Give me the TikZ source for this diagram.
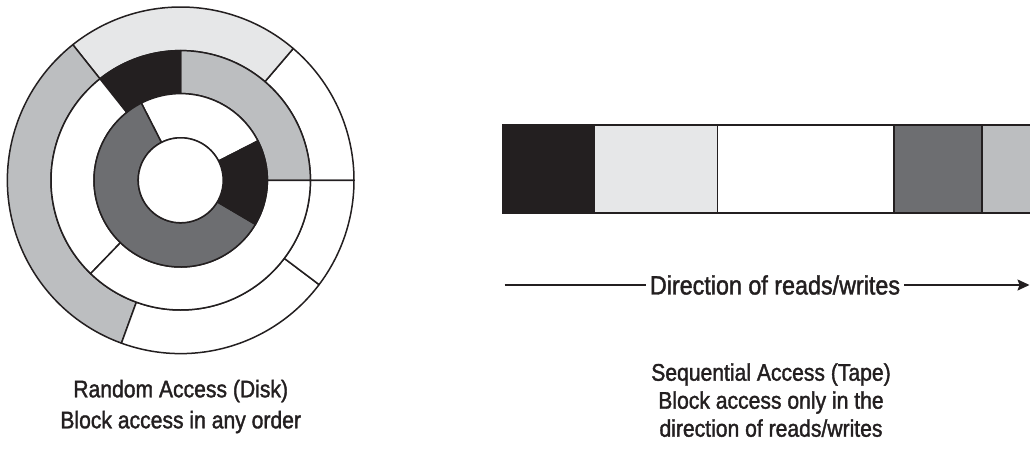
\documentclass[tikz,border=0pt]{standalone}
\usepackage{fontspec}
\setmainfont{Liberation Sans}[FakeStretch=0.88, FakeBold=1.5]
\usetikzlibrary{arrows.meta,positioning}
\definecolor{ink}{HTML}{231F20}
\definecolor{darkgrey}{HTML}{6D6E71}
\definecolor{midgrey}{HTML}{BCBEC0}
\definecolor{lightgrey}{HTML}{E6E7E8}
\tikzset{
    track/.style = {draw=ink, line width=1.5pt, line join=round},
    block/.style = {draw=ink, line width=1.5pt},
    caption/.style = {align=center, text=ink, inner sep=0pt, anchor=base, font=\fontsize{24}{28}\selectfont},
    arrowtext/.style = {text=ink, inner sep=4pt, font=\fontsize{26.5}{30}\selectfont}
}
% one piece of a ring: fill, inner radius, outer radius, from angle, to angle
\newcommand{\sector}[5]{%
    \filldraw[track, fill=#1] (#4:#2) arc[start angle=#4, end angle=#5, radius=#2]
        -- (#5:#3) arc[start angle=#5, end angle=#4, radius=#3] -- cycle;}

\begin{document}
\begin{tikzpicture}[x=1pt, y=1pt]
    \useasboundingbox (0,0) rectangle (1030,448);

    % disk
    \begin{scope}[shift={(180.7,267.7)}]
        \sector{white}{129.7}{173.3}{0}{49.5}
        \sector{lightgrey}{129.7}{173.3}{49.5}{128.5}
        \sector{midgrey}{129.7}{173.3}{128.5}{250}
        \sector{white}{129.7}{173.3}{250}{323}
        \sector{white}{129.7}{173.3}{323}{360}
        \sector{midgrey}{86.7}{129.7}{0}{90}
        \sector{ink}{86.7}{129.7}{90}{128.5}
        \sector{white}{86.7}{129.7}{128.5}{226}
        \sector{white}{86.7}{129.7}{226}{360}
        \sector{white}{42.5}{86.7}{27}{117}
        \sector{darkgrey}{42.5}{86.7}{117}{329.5}
        \sector{ink}{42.5}{86.7}{329.5}{387}
        \filldraw[track, fill=white] (0,0) circle (42.5);
    \end{scope}

    % tape
    \filldraw[block, fill=ink] (502.7,235) rectangle (594,323);
    \filldraw[block, fill=lightgrey] (594,235) rectangle (717.3,323);
    \filldraw[block, fill=white] (717.3,235) rectangle (894,323);
    \filldraw[block, fill=darkgrey] (894,235) rectangle (982,323);
    \filldraw[block, fill=midgrey] (982,235) rectangle (1034,323);

    % direction arrow
    \node (dir) at (775,163) [arrowtext] {Direction of reads/writes};
    \coordinate (from) at (504.5,163);
    \coordinate (to) at (1029.5,163);
    \draw[ink, line width=1.5pt] (from) -- (dir);
    \draw[ink, line width=1.5pt, -{Stealth[length=12pt,width=11pt,inset=2pt]}] (dir) -- (to);

    % captions
    \node (disk) at (180.7,19.7) [caption] {Random Access (Disk)\\[3pt]Block access in any order};
    \node (tape) at (771,11.3) [caption] {Sequential Access (Tape)\\Block access only in the\\direction of reads/writes};
\end{tikzpicture}
\end{document}
